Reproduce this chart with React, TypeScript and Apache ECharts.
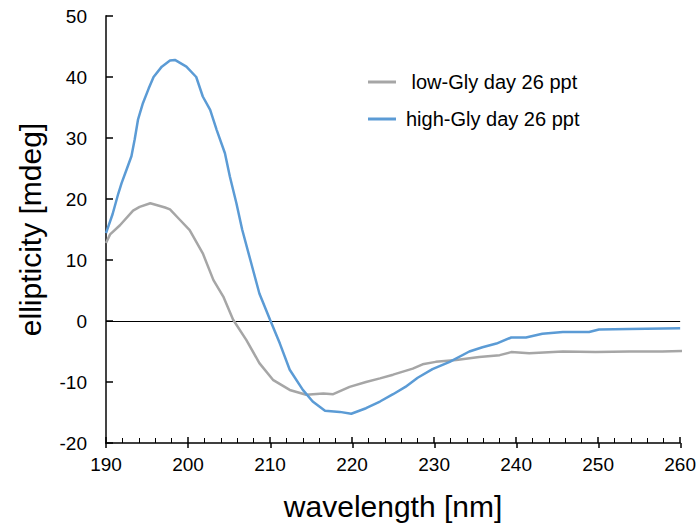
import React, { useEffect, useRef } from "react";
import * as echarts from "echarts";

const highX = [190,190.8,191.5,191.9,192.5,193.1,193.5,193.9,194.5,195.2,195.8,196.8,197.8,198.4,199.8,201,201.8,202.7,203.5,204.5,205.1,205.9,206.6,207.7,208.7,210,211.2,212.4,214,215.2,216.7,218.5,219.9,221.7,223.4,225,226.5,228,229.8,231.9,234.3,235.9,237.6,239.4,241.2,243.2,245.7,248.9,250.1,253.8,260];
const highY = [14.4,17.5,20.9,22.6,24.8,27,29.8,33,35.7,38.1,40,41.7,42.7,42.8,41.7,40,36.8,34.6,31.3,27.5,23.7,19.3,15,9.5,4.5,0.2,-3.7,-8,-11.3,-13.2,-14.7,-14.9,-15.2,-14.3,-13.2,-12,-10.8,-9.3,-7.9,-6.7,-5,-4.3,-3.7,-2.7,-2.7,-2.1,-1.8,-1.8,-1.4,-1.3,-1.2];
const lowX = [190,190.5,191.7,193.3,194.1,195.4,197.2,197.8,199,200.2,201.8,203.1,204.3,205.5,207.1,208.7,210.4,212.4,214.4,216.5,217.7,219.7,221.7,223.4,225,226.2,227.4,228.6,230.2,232.7,235.5,238,239.4,241.6,245.7,249.7,253.8,257.8,261];
const lowY = [12.8,14.2,15.7,18.1,18.7,19.3,18.6,18.3,16.6,14.9,11.1,6.7,4,0.2,-3.1,-6.9,-9.7,-11.3,-12.1,-11.9,-12,-10.8,-10,-9.4,-8.8,-8.3,-7.8,-7.1,-6.7,-6.4,-5.9,-5.6,-5.1,-5.3,-5,-5.1,-5,-5,-4.9];
const seriesNames = ["low-Gly day 26 ppt", "high-Gly day 26 ppt"];
const xTitle = "wavelength [nm]";
const yTitle = "ellipticity [mdeg]";

const FONT = "'Liberation Sans', Arial, Helvetica, sans-serif";

export default function App() {
  const ref = useRef<HTMLDivElement>(null);
  useEffect(() => {
    document.body.style.margin = "0";
    const chart = echarts.init(ref.current!, null, { renderer: "svg" });
    const pair = (xs: number[], ys: number[]) => xs.map((x, i) => [x, ys[i]]);
    const gridBox = { left: 106, top: 16, width: 575, height: 427 };
    chart.setOption({
      animation: false,
      textStyle: { fontFamily: FONT },
      grid: [gridBox, { ...gridBox }],
      legend: {
        orient: "vertical",
        left: 363,
        top: 67,
        itemWidth: 28,
        itemHeight: 3,
        itemGap: 17,
        icon: "rect",
        textStyle: { fontFamily: FONT, fontSize: 20, color: "#000", padding: [0, 0, 0, 5] },
        formatter: (n: string) => (n === seriesNames[0] ? "\u00a0" + n : n),
        data: seriesNames,
      },
      xAxis: [
        {
          type: "value",
          gridIndex: 0,
          min: 190,
          max: 260,
          interval: 10,
          position: "bottom",
          name: xTitle,
          nameLocation: "middle",
          nameGap: 48,
          nameTextStyle: { fontSize: 30, color: "#000", fontFamily: FONT },
          axisLine: { show: true, onZero: false, lineStyle: { color: "#000", width: 1.5 } },
          axisTick: { show: true, inside: true, length: 6, lineStyle: { color: "#000", width: 1.5 } },
          minorTick: { show: true, splitNumber: 5, length: 5, lineStyle: { color: "#000", width: 1 } },
          axisLabel: { fontSize: 19, color: "#000", margin: 12, fontFamily: FONT },
          splitLine: { show: false },
        },
        {
          type: "value",
          gridIndex: 1,
          min: 190,
          max: 260,
          interval: 10,
          position: "bottom",
          axisLine: { show: false, onZero: false },
          axisTick: { show: true, inside: false, length: 5, lineStyle: { color: "#000", width: 1.5 } },
          axisLabel: { show: false },
          splitLine: { show: false },
        },
      ],
      yAxis: [
        {
          type: "value",
          gridIndex: 0,
          min: -20,
          max: 50,
          interval: 10,
          position: "left",
          name: yTitle,
          nameLocation: "middle",
          nameGap: 61,
          nameTextStyle: { fontSize: 30, color: "#000", fontFamily: FONT },
          axisLine: { show: true, onZero: false, lineStyle: { color: "#444", width: 2 } },
          axisTick: { show: true, inside: true, length: 7, lineStyle: { color: "#000", width: 1.5 } },
          axisLabel: { fontSize: 19, color: "#000", margin: 19, fontFamily: FONT },
          splitLine: { show: false },
        },
        {
          type: "value",
          gridIndex: 1,
          min: -20,
          max: 50,
          show: false,
        },
      ],
      series: [
        {
          name: seriesNames[0],
          type: "line",
          data: pair(lowX, lowY),
          showSymbol: false,
          clip: false,
          lineStyle: { color: "#a6a6a6", width: 2.5 },
          itemStyle: { color: "#a6a6a6" },
          z: 2,
        },
        {
          name: seriesNames[1],
          type: "line",
          data: pair(highX, highY),
          showSymbol: false,
          lineStyle: { color: "#5b9bd5", width: 2.5 },
          itemStyle: { color: "#5b9bd5" },
          z: 3,
          markLine: {
            silent: true,
            symbol: "none",
            label: { show: false },
            lineStyle: { color: "#000", width: 1.2, type: "solid" },
            data: [{ yAxis: 0 }],
            z: 1,
          },
        },
      ],
    });
    return () => chart.dispose();
  }, []);
  return <div ref={ref} style={{ width: 699, height: 527 }} />;
}
